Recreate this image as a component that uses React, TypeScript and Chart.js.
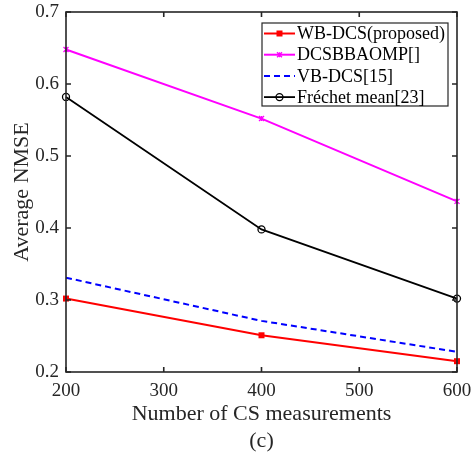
import React, { useEffect, useRef } from 'react';
import { Chart, registerables } from 'chart.js';

Chart.register(...registerables);

const measurements = [200, 400, 600];
const wbDcs = [0.302, 0.251, 0.215];
const dcsbbaomp = [0.648, 0.552, 0.437];
const vbDcs = [0.331, 0.271, 0.228];
const frechetMean = [0.582, 0.398, 0.302];
const seriesLabels = ['WB-DCS(proposed)', 'DCSBBAOMP[]', 'VB-DCS[15]', 'Fréchet mean[23]'];
const xTickValues = [200, 300, 400, 500, 600];
const yTickValues = [0.2, 0.3, 0.4, 0.5, 0.6, 0.7];
const xTitle = 'Number of CS measurements';
const yTitle = 'Average NMSE';
const caption = '(c)';

const FONT = "'Liberation Serif', 'Times New Roman', serif";
const AXIS_COLOR = '#262626';

function drawMarker(ctx: CanvasRenderingContext2D, style: string, x: number, y: number, r: number, color: string) {
  ctx.save();
  ctx.strokeStyle = color;
  ctx.fillStyle = color;
  ctx.lineWidth = 1.3;
  ctx.setLineDash([]);
  ctx.beginPath();
  if (style === 'rect') {
    ctx.rect(x - r, y - r, 2 * r, 2 * r);
    ctx.fill();
  } else if (style === 'star') {
    ctx.moveTo(x - r, y - r); ctx.lineTo(x + r, y + r);
    ctx.moveTo(x - r, y + r); ctx.lineTo(x + r, y - r);
    ctx.moveTo(x, y - r); ctx.lineTo(x, y + r);
    ctx.stroke();
  } else if (style === 'circle') {
    ctx.arc(x, y, r, 0, Math.PI * 2);
    ctx.stroke();
  }
  ctx.restore();
}

const framePlugin = {
  id: 'matlabFrame',
  afterDatasetsDraw(chart: any) {
    const { ctx, chartArea } = chart;
    const { left, right, top, bottom } = chartArea;
    const xs = chart.scales.x;
    const ys = chart.scales.y;
    ctx.save();
    ctx.strokeStyle = AXIS_COLOR;
    ctx.lineWidth = 1.6;
    ctx.setLineDash([]);
    ctx.strokeRect(left, top, right - left, bottom - top);
    const tl = 5;
    ctx.beginPath();
    xTickValues.forEach((v) => {
      const px = xs.getPixelForValue(v);
      ctx.moveTo(px, bottom); ctx.lineTo(px, bottom - tl);
      ctx.moveTo(px, top); ctx.lineTo(px, top + tl);
    });
    yTickValues.forEach((v) => {
      const py = ys.getPixelForValue(v);
      ctx.moveTo(left, py); ctx.lineTo(left + tl, py);
      ctx.moveTo(right, py); ctx.lineTo(right - tl, py);
    });
    ctx.stroke();
    ctx.restore();
  },
  afterDraw(chart: any) {
    const { ctx } = chart;
    const bx = 262, by = 23, bw = 186, bh = 83;
    ctx.save();
    ctx.fillStyle = '#ffffff';
    ctx.fillRect(bx, by, bw, bh);
    ctx.strokeStyle = AXIS_COLOR;
    ctx.lineWidth = 1.2;
    ctx.strokeRect(bx, by, bw, bh);
    ctx.font = `18px ${FONT}`;
    ctx.textBaseline = 'middle';
    ctx.textAlign = 'left';
    chart.data.datasets.forEach((ds: any, i: number) => {
      const cy = by + 10.5 + i * 21.2;
      ctx.save();
      ctx.strokeStyle = ds.borderColor;
      ctx.lineWidth = ds.borderWidth;
      ctx.setLineDash(ds.borderDash || []);
      ctx.beginPath();
      ctx.moveTo(bx + 2, cy);
      ctx.lineTo(bx + 33, cy);
      ctx.stroke();
      ctx.restore();
      if (ds.pointRadius > 0) {
        drawMarker(ctx, ds.pointStyle, bx + 17.5, cy, ds.pointRadius, ds.borderColor);
      }
      ctx.fillStyle = '#000000';
      ctx.fillText(ds.label, bx + 35, cy + 1);
    });
    ctx.restore();
  },
};

const markerPlugin = {
  id: 'customMarkers',
  afterDatasetsDraw(chart: any) {
    const { ctx } = chart;
    chart.data.datasets.forEach((ds: any, i: number) => {
      if (!(ds.pointRadius > 0)) return;
      const meta = chart.getDatasetMeta(i);
      meta.data.forEach((pt: any) => {
        drawMarker(ctx, ds.pointStyle, pt.x, pt.y, ds.pointRadius, ds.borderColor);
      });
    });
  },
};

function toPoints(ys: number[]) {
  return measurements.map((x, i) => ({ x, y: ys[i] }));
}

export default function App() {
  const canvasRef = useRef<HTMLCanvasElement | null>(null);

  useEffect(() => {
    if (!canvasRef.current) return;
    const chart = new Chart(canvasRef.current, {
      type: 'line',
      data: {
        datasets: [
          {
            label: seriesLabels[0],
            data: toPoints(wbDcs),
            borderColor: '#ff0000',
            borderWidth: 2,
            pointStyle: 'rect',
            pointRadius: 3,
          },
          {
            label: seriesLabels[1],
            data: toPoints(dcsbbaomp),
            borderColor: '#ff00ff',
            borderWidth: 2,
            pointStyle: 'star',
            pointRadius: 2.5,
          },
          {
            label: seriesLabels[2],
            data: toPoints(vbDcs),
            borderColor: '#0000ff',
            borderWidth: 2,
            borderDash: [6, 4],
            pointRadius: 0,
          },
          {
            label: seriesLabels[3],
            data: toPoints(frechetMean),
            borderColor: '#000000',
            borderWidth: 1.8,
            pointStyle: 'circle',
            pointRadius: 3.5,
          },
        ].map((d: any) => ({ ...d, clip: false, showLine: true, pointHoverRadius: 0, pointBackgroundColor: 'rgba(0,0,0,0)', pointBorderColor: 'rgba(0,0,0,0)', tension: 0 })),
      },
      options: {
        responsive: false,
        animation: false,
        events: [],
        layout: { padding: { left: 0, right: 19, top: 12, bottom: 0 } },
        plugins: {
          legend: { display: false },
          tooltip: { enabled: false },
          title: { display: false },
        },
        scales: {
          x: {
            type: 'linear',
            min: 200,
            max: 600,
            grid: { display: false, drawTicks: false },
            border: { display: false },
            afterBuildTicks: (scale: any) => {
              scale.ticks = xTickValues.map((v) => ({ value: v }));
            },
            afterFit: (scale: any) => {
              scale.height = 83;
              scale.paddingLeft = 0;
              scale.paddingRight = 0;
            },
            ticks: {
              padding: 8,
              color: '#262626',
              font: { family: FONT, size: 19 },
              maxRotation: 0,
              autoSkip: false,
            },
            title: {
              display: true,
              text: [xTitle, caption],
              color: '#262626',
              font: { family: FONT, size: 22, lineHeight: 1.227 },
              padding: { top: 0, bottom: 0 },
            },
          },
          y: {
            type: 'linear',
            min: 0.2,
            max: 0.7,
            grid: { display: false, drawTicks: false },
            border: { display: false },
            afterBuildTicks: (scale: any) => {
              scale.ticks = yTickValues.map((v) => ({ value: v }));
            },
            afterFit: (scale: any) => {
              scale.width = 66;
              scale.paddingTop = 0;
              scale.paddingBottom = 0;
            },
            ticks: {
              padding: 7,
              color: '#262626',
              font: { family: FONT, size: 19 },
              autoSkip: false,
              callback: (v: any) => Number(v).toFixed(1),
            },
            title: {
              display: true,
              text: yTitle,
              color: '#262626',
              font: { family: FONT, size: 22 },
              padding: { top: 9, bottom: 0 },
            },
          },
        },
      } as any,
      plugins: [markerPlugin, framePlugin],
    });
    return () => chart.destroy();
  }, []);

  return (
    <div style={{ position: 'fixed', left: 0, top: 0, width: 476, height: 455, background: '#ffffff' }}>
      <canvas ref={canvasRef} width={476} height={455} style={{ display: 'block' }} />
    </div>
  );
}
